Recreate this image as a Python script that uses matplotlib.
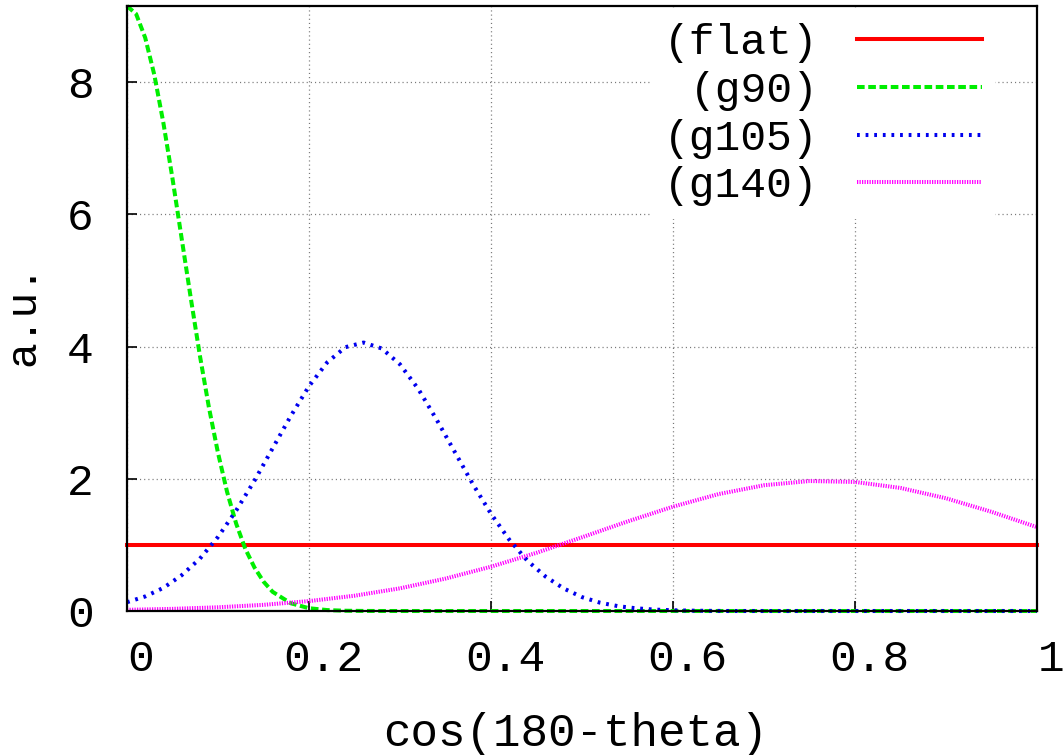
import matplotlib
matplotlib.use("Agg")
import matplotlib.pyplot as plt
import matplotlib.transforms as mtransforms

plt.rcParams['font.family'] = ['Liberation Mono', 'DejaVu Sans Mono']
plt.rcParams['lines.scale_dashes'] = False

# values
x_flat = [0.0, 1.0]
y_flat = [1.0, 1.0]

x_g90 = [0.0, 0.01, 0.02, 0.03, 0.04, 0.05, 0.06, 0.07, 0.08, 0.09,
         0.10, 0.11, 0.12, 0.13, 0.14, 0.15, 0.16, 0.18, 0.20, 0.22,
         0.24, 0.26, 0.28, 1.0]
y_g90 = [9.15, 9.03, 8.67, 8.11, 7.38, 6.54, 5.64, 4.74, 3.87, 3.08,
         2.39, 1.80, 1.32, 0.94, 0.66, 0.445, 0.29, 0.117, 0.042, 0.014,
         0.004, 0.001, 0.0, 0.0]

x_g105 = [0.0, 0.02, 0.04, 0.06, 0.08, 0.10, 0.12, 0.14, 0.16, 0.18,
          0.20, 0.22, 0.24, 0.26, 0.28, 0.30, 0.32, 0.34, 0.36, 0.38,
          0.40, 0.42, 0.44, 0.46, 0.48, 0.50, 0.52, 0.54, 0.56, 0.58,
          0.60, 0.62, 0.64, 0.66, 1.0]
y_g105 = [0.133, 0.22, 0.35, 0.54, 0.79, 1.12, 1.52, 1.97, 2.46, 2.95,
          3.40, 3.76, 3.99, 4.06, 3.97, 3.73, 3.36, 2.90, 2.41, 1.92,
          1.47, 1.08, 0.76, 0.52, 0.34, 0.21, 0.125, 0.072, 0.040, 0.021,
          0.011, 0.005, 0.002, 0.0, 0.0]

x_g140 = [0.0, 0.05, 0.10, 0.15, 0.20, 0.25, 0.30, 0.35, 0.40, 0.45,
          0.50, 0.55, 0.60, 0.65, 0.70, 0.75, 0.80, 0.85, 0.90, 0.95, 1.0]
y_g140 = [0.018, 0.032, 0.056, 0.093, 0.150, 0.231, 0.343, 0.49, 0.67, 0.88,
          1.115, 1.354, 1.578, 1.768, 1.902, 1.966, 1.952, 1.861, 1.705, 1.50, 1.268]

x_ticks = [0, 0.2, 0.4, 0.6, 0.8, 1.0]
x_ticklabels = ['0', '0.2', '0.4', '0.6', '0.8', '1']
y_ticks = [0, 2, 4, 6, 8]

fig = plt.figure(figsize=(10.63, 7.55), dpi=100)
ax = fig.add_axes([127/1063, 1 - 611/755, 910/1063, 605/755])

ax.plot(x_flat, y_flat, color='#ff0000', lw=2.9, label='(flat)', clip_on=False)
ax.plot(x_g90, y_g90, color='#00ee00', lw=2.9, dashes=(5.5, 2.6), label='(g90)', clip_on=False)
ax.plot(x_g105, y_g105, color='#0000ee', lw=2.9, dashes=(2.0, 4.2), label='(g105)', clip_on=False)
ax.plot(x_g140, y_g140, color='#ff00ff', lw=2.9, dashes=(0.9, 0.9), label='(g140)', clip_on=False)

ax.set_xlim(0, 1)
ax.set_ylim(0, 9.15)
ax.set_xticks(x_ticks)
ax.set_xticklabels(x_ticklabels)
ax.set_yticks(y_ticks)
ax.tick_params(direction='in', length=7, width=1.2, labelsize=32)
ax.tick_params(axis='x', pad=20)
ax.tick_params(axis='y', pad=24)
# gnuplot puts the x labels a bit right of their ticks
shift = mtransforms.ScaledTranslation(14/100, 0, fig.dpi_scale_trans)
for lab in ax.get_xticklabels():
    lab.set_transform(lab.get_transform() + shift)
ax.grid(True, color='#777777', lw=0.9, linestyle=(0, (0.8, 2.2)))
for s in ax.spines.values():
    s.set_linewidth(1.6)

ax.set_xlabel('cos(180-theta)', fontsize=33)
ax.set_ylabel('a.u.', fontsize=31)
ax.xaxis.set_label_coords(0.4934, -0.167)
ax.yaxis.set_label_coords(-0.092, 0.49)

leg = ax.legend(loc='upper right', bbox_to_anchor=(0.954, 0.993), markerfirst=False,
                fontsize=31, handlelength=2.9, handletextpad=0.9, labelspacing=0.18,
                borderpad=0.3, borderaxespad=0, fancybox=False, framealpha=1,
                edgecolor='none', facecolor='white')
for t in leg.get_texts():
    t.set_ha('right')

fig.savefig('out.png', dpi=100)
